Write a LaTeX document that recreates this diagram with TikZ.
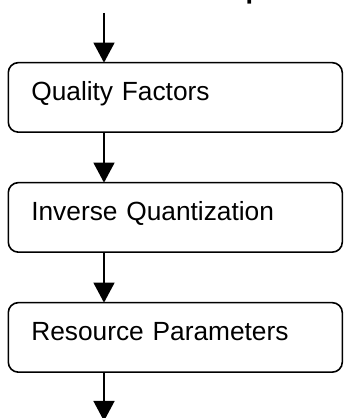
\documentclass[tikz,border=0pt]{standalone}
\usepackage{fontspec}
\setmainfont{Liberation Sans}
\usetikzlibrary{arrows.meta,positioning}
\tikzset{
  stage/.style={draw=black, rounded corners=10pt, line width=1.6pt, outer sep=0pt, minimum height=69.5pt, text width=288pt, inner xsep=23pt, align=left, text height=19pt, text depth=13.6pt, font=\fontsize{26.3}{30}\selectfont},
  flow/.style={-{Triangle[length=20pt,width=21pt]}, line width=1.4pt, draw=black},
}

\begin{document}
\begin{tikzpicture}[x=1pt,y=1pt]
  \useasboundingbox (0,0) rectangle (344,418);
  \clip (0,0) rectangle (344,418);
  % heading, cut off by the frame
  \node[font=\bfseries\fontsize{27}{30}\selectfont, anchor=base, inner sep=0pt] (title) at (172,419) {Resource Description};
  % stages
  \node[stage] (quality) at (175.3,320.6) {Quality Factors};
  \node[stage, below=50.5pt of quality] (invq) {Inverse Quantization};
  \node[stage, below=50.5pt of invq] (resparam) {Resource Parameters};
  % flow
  \coordinate (in) at (104,405);
  \coordinate (out) at (104,-3);
  \draw[flow] (in) -- (in |- quality.north);
  \draw[flow] (in |- quality.south) -- (in |- invq.north);
  \draw[flow] (in |- invq.south) -- (in |- resparam.north);
  \draw[flow] (in |- resparam.south) -- (out);
\end{tikzpicture}
\end{document}
